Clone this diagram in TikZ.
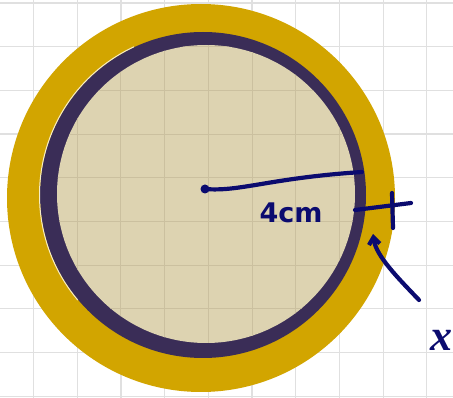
\documentclass[tikz,border=0pt]{standalone}
\usepackage{fontspec}
\setmainfont{DejaVu Sans}
\newfontfamily\xfont{Liberation Serif}
\usetikzlibrary{arrows.meta}
\definecolor{goldc}{HTML}{D2A500}
\definecolor{ringc}{HTML}{3A2D57}
\definecolor{beigec}{HTML}{DDD3B1}
\definecolor{inkc}{HTML}{0B0B6F}
\definecolor{gridc}{HTML}{E0E0E0}
\definecolor{gridin}{HTML}{CBC09F}
\definecolor{creamc}{HTML}{F6EDC6}
\tikzset{
  gridline/.style={gridc, line width=1.2pt},
  gridinner/.style={gridin, line width=1pt},
  ink/.style={inkc, line width=4.2pt, line cap=round, line join=round},
  handtext/.style={text=inkc, font=\fontsize{27}{27}\selectfont\bfseries, inner sep=0pt},
  xtext/.style={text=inkc, font=\xfont\itshape\bfseries\fontsize{44}{44}\selectfont, inner sep=0pt}
}
\begin{document}
\begin{tikzpicture}[x=1pt,y=-1pt]
\useasboundingbox (0,0) rectangle (453,398);
\fill[white] (0,0) rectangle (453,398);
% grid
\foreach \gx in {33.5,77.2,120.9,164.6,208.3,252,295.7,339.4,383.1,426.8}
  \draw[gridline] (\gx,0) -- (\gx,398);
\foreach \gy in {3,46.7,90.4,134.1,177.8,221.5,265.2,308.9,352.6,396.3}
  \draw[gridline] (0,\gy) -- (453,\gy);
% discs
\fill[goldc] (201,198) circle (194);
\fill[ringc] (203,195) circle (163);
\fill[beigec] (206,194) circle (149);
\begin{scope}
  \clip (206,194) circle (149);
  \foreach \gx in {33.5,77.2,120.9,164.6,208.3,252,295.7,339.4,383.1,426.8}
    \draw[gridinner] (\gx,0) -- (\gx,398);
  \foreach \gy in {3,46.7,90.4,134.1,177.8,221.5,265.2,308.9,352.6,396.3}
    \draw[gridinner] (0,\gy) -- (453,\gy);
\end{scope}
% thin cream edge on the left of the ring
\draw[creamc, line width=1pt] (203,195) ++(140:163.5) arc[start angle=140, end angle=245, radius=163.5];
% radius
\coordinate (ctr) at (205,189);
\coordinate (rim) at (362,172);
\fill[inkc] (ctr) circle (4.5);
\draw[ink] (ctr) .. controls (240,192) and (270,178) .. (rim);
\node[handtext] (lab4) at (291,213) {4cm};
% thickness tick
\coordinate (tickl) at (355,210);
\coordinate (tickr) at (411,203);
\coordinate (ticktop) at (392,193);
\coordinate (tickbot) at (393,228);
\draw[ink] (tickl) -- (tickr);
\draw[ink] (ticktop) -- (tickbot);
% label x and its arrow
\node[xtext] (labx) at (441,340) {x};
\coordinate (arrtail) at (419,300);
\coordinate (arrtip) at (373,234);
\draw[ink, -{Straight Barb[length=7pt, width=11pt]}] (arrtail) .. controls (398,278) and (376,256) .. (arrtip);
\end{tikzpicture}
\end{document}
